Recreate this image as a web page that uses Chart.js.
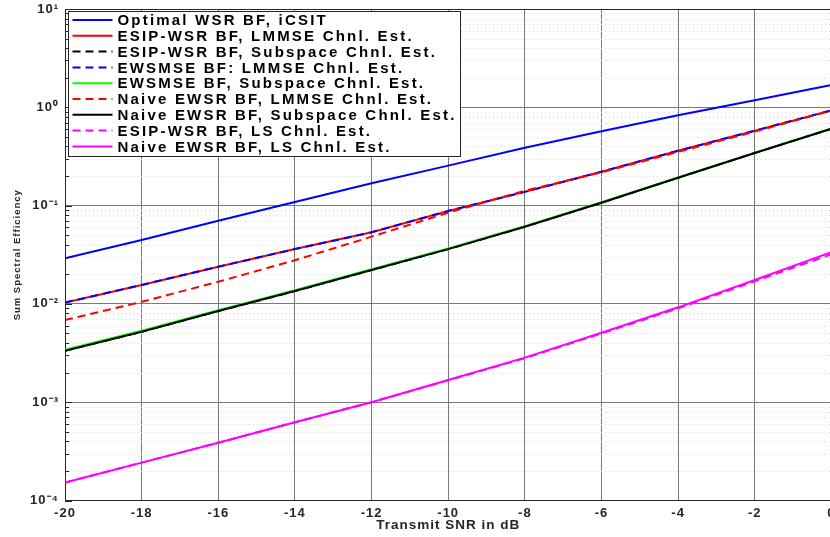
<!DOCTYPE html>
<html>
<head>
<meta charset="utf-8">
<script src="https://cdn.jsdelivr.net/npm/chart.js@4.4.1/dist/chart.umd.min.js"></script>
<style>
  html, body { margin: 0; padding: 0; background: #fff; overflow: hidden; }
  canvas { display: block; }
</style>
</head>
<body>
<canvas id="chart" width="840" height="537"></canvas>
<script>
const snr = [-20, -18, -16, -14, -12, -10, -8, -6, -4, -2, 0];

const optimalIcsit   = [0.0291, 0.0447, 0.0701, 0.109, 0.169, 0.255, 0.388, 0.570, 0.830, 1.18, 1.69];
const esipLmmse      = [0.0103, 0.0156, 0.0239, 0.0361, 0.0535, 0.0881, 0.138, 0.221, 0.361, 0.578, 0.93];
const esipSubspace   = [0.00334, 0.00521, 0.00847, 0.0135, 0.0221, 0.0361, 0.0610, 0.107, 0.192, 0.343, 0.605];
const ewsmseLmmse    = [0.0103, 0.0156, 0.0239, 0.0361, 0.0535, 0.0881, 0.138, 0.221, 0.361, 0.578, 0.93];
const ewsmseSubspace = [0.00342, 0.00533, 0.00865, 0.0138, 0.0225, 0.0367, 0.0618, 0.108, 0.193, 0.344, 0.605];
const naiveLmmse     = [0.00685, 0.0105, 0.0168, 0.0278, 0.0483, 0.0847, 0.142, 0.218, 0.352, 0.566, 0.925];
const naiveSubspace  = [0.00334, 0.00521, 0.00847, 0.0135, 0.0221, 0.0361, 0.0610, 0.107, 0.192, 0.343, 0.605];
const esipLs         = [0.000152, 0.000243, 0.000387, 0.000625, 0.00100, 0.00167, 0.00280, 0.00500, 0.00900, 0.0170, 0.0320];
const naiveLs        = [0.000152, 0.000243, 0.000387, 0.000625, 0.00100, 0.00168, 0.00284, 0.00509, 0.00923, 0.0175, 0.0336];

const yTickValues = [1e-4, 1e-3, 1e-2, 1e-1, 1e0, 1e1];
const yTickLabels = ['10\u207B\u2074', '10\u207B\u00B3', '10\u207B\u00B2', '10\u207B\u00B9', '10\u2070', '10\u00B9'];

const series = [
  { label: 'Optimal WSR BF, iCSIT', data: optimalIcsit, color: '#0000ff', dash: [] },
  { label: 'ESIP-WSR BF, LMMSE Chnl. Est.', data: esipLmmse, color: '#ff0000', dash: [] },
  { label: 'ESIP-WSR BF, Subspace Chnl. Est.', data: esipSubspace, color: '#000000', dash: [8, 5] },
  { label: 'EWSMSE BF: LMMSE Chnl. Est.', data: ewsmseLmmse, color: '#0000ff', dash: [8, 5] },
  { label: 'EWSMSE BF, Subspace Chnl. Est.', data: ewsmseSubspace, color: '#00ff00', dash: [] },
  { label: 'Naive EWSR BF, LMMSE Chnl. Est.', data: naiveLmmse, color: '#ff0000', dash: [8, 5] },
  { label: 'Naive EWSR BF, Subspace Chnl. Est.', data: naiveSubspace, color: '#000000', dash: [] },
  { label: 'ESIP-WSR BF, LS Chnl. Est.', data: esipLs, color: '#ff00ff', dash: [8, 5] },
  { label: 'Naive EWSR BF, LS Chnl. Est.', data: naiveLs, color: '#ff00ff', dash: [] }
];

const isDecade = v => Math.abs(Math.log10(v) - Math.round(Math.log10(v))) < 1e-6;
const FONT = '"Liberation Sans", Arial, sans-serif';

// minor dotted grid, inward ticks and the top of the box
const matlabGrid = {
  id: 'matlabGrid',
  beforeDraw(chart) {
    // matlab spreads its bold text a little
    chart.ctx.letterSpacing = '1px';
  },
  beforeDatasetsDraw(chart) {
    const { ctx, chartArea: a, scales: { y } } = chart;
    ctx.save();
    ctx.lineWidth = 1;
    y.ticks.forEach(t => {
      const py = Math.round(y.getPixelForValue(t.value)) + 0.5;
      if (!isDecade(t.value)) {
        ctx.strokeStyle = '#d6d6d6';
        ctx.setLineDash([1, 3]);
        ctx.beginPath();
        ctx.moveTo(a.left, py);
        ctx.lineTo(a.right, py);
        ctx.stroke();
      }
      ctx.setLineDash([]);
      ctx.strokeStyle = '#262626';
      ctx.beginPath();
      ctx.moveTo(a.left, py);
      ctx.lineTo(a.left + (isDecade(t.value) ? 7 : 4), py);
      ctx.stroke();
    });
    ctx.strokeStyle = '#262626';
    ctx.beginPath();
    ctx.moveTo(a.left, Math.round(a.top) + 0.5);
    ctx.lineTo(a.right, Math.round(a.top) + 0.5);
    ctx.stroke();
    ctx.restore();
  }
};

// boxed legend in the upper left corner of the axes
const boxLegend = {
  id: 'boxLegend',
  afterDatasetsDraw(chart) {
    const { ctx, chartArea: a } = chart;
    const x0 = a.left + 3.5, y0 = a.top + 2.5, w = 392, h = 145;
    const rowH = 15.8;
    ctx.save();
    ctx.fillStyle = '#fff';
    ctx.fillRect(x0, y0, w, h);
    ctx.strokeStyle = '#262626';
    ctx.lineWidth = 1;
    ctx.strokeRect(x0, y0, w, h);
    ctx.font = 'bold 15px ' + FONT;
    ctx.letterSpacing = '2.2px';
    ctx.textBaseline = 'middle';
    chart.data.datasets.forEach((ds, i) => {
      const cy = y0 + 8.5 + i * rowH;
      ctx.strokeStyle = ds.borderColor;
      ctx.lineWidth = 2;
      ctx.setLineDash(ds.borderDash);
      ctx.beginPath();
      ctx.moveTo(x0 + 4, cy);
      ctx.lineTo(x0 + 44, cy);
      ctx.stroke();
      ctx.setLineDash([]);
      ctx.fillStyle = '#000';
      ctx.fillText(ds.label, x0 + 49, cy + 1);
    });
    ctx.restore();
  }
};

new Chart(document.getElementById('chart'), {
  type: 'line',
  data: {
    labels: snr,
    datasets: series.map((s, i) => ({
      label: s.label,
      data: s.data,
      borderColor: s.color,
      backgroundColor: s.color,
      borderDash: s.dash,
      borderWidth: 2,
      pointRadius: 0,
      fill: false,
      tension: 0,
      order: series.length - i
    }))
  },
  options: {
    responsive: false,
    animation: false,
    layout: { padding: { top: 9, right: 7, left: 0, bottom: 0 } },
    plugins: { legend: { display: false }, tooltip: { enabled: false } },
    scales: {
      x: {
        type: 'linear',
        min: -20,
        max: 0,
        afterFit: s => { s.height = 36.5; },
        ticks: {
          stepSize: 2,
          padding: 5,
          color: '#262626',
          font: { family: FONT, size: 13, weight: 'bold' }
        },
        grid: { color: '#7a7a7a', lineWidth: 1, drawTicks: false },
        border: { color: '#262626', width: 1 },
        title: {
          display: true,
          text: 'Transmit SNR in dB',
          color: '#262626',
          padding: { top: 0, bottom: 4 },
          font: { family: FONT, size: 13.5, weight: 'bold' }
        }
      },
      y: {
        type: 'logarithmic',
        min: 1e-4,
        max: 10,
        afterFit: s => { s.width = 65; },
        afterBuildTicks: s => {
          const extra = [];
          for (let e = -4; e < 1; e++) {
            for (let m = 2; m <= 9; m++) extra.push({ value: m * Math.pow(10, e) });
          }
          s.ticks = yTickValues.map(v => ({ value: v, major: true })).concat(extra)
            .sort((p, q) => p.value - q.value);
        },
        ticks: {
          autoSkip: false,
          padding: 6,
          color: '#262626',
          font: { family: FONT, size: 13, weight: 'bold', lineHeight: 0.4 },
          callback: v => {
            const k = yTickValues.findIndex(t => Math.abs(t - v) / t < 1e-6);
            return k >= 0 ? yTickLabels[k] : '';
          }
        },
        grid: {
          drawTicks: false,
          lineWidth: 1,
          color: c => (c.tick && isDecade(c.tick.value)) ? '#7a7a7a' : 'rgba(0,0,0,0)'
        },
        border: { color: '#262626', width: 1 },
        title: {
          display: true,
          text: 'Sum Spectral Efficiency',
          color: '#262626',
          padding: { top: 11.5, bottom: 0 },
          font: { family: FONT, size: 9.5, weight: 'bold' }
        }
      }
    }
  },
  plugins: [matlabGrid, boxLegend]
});
</script>
</body>
</html>
